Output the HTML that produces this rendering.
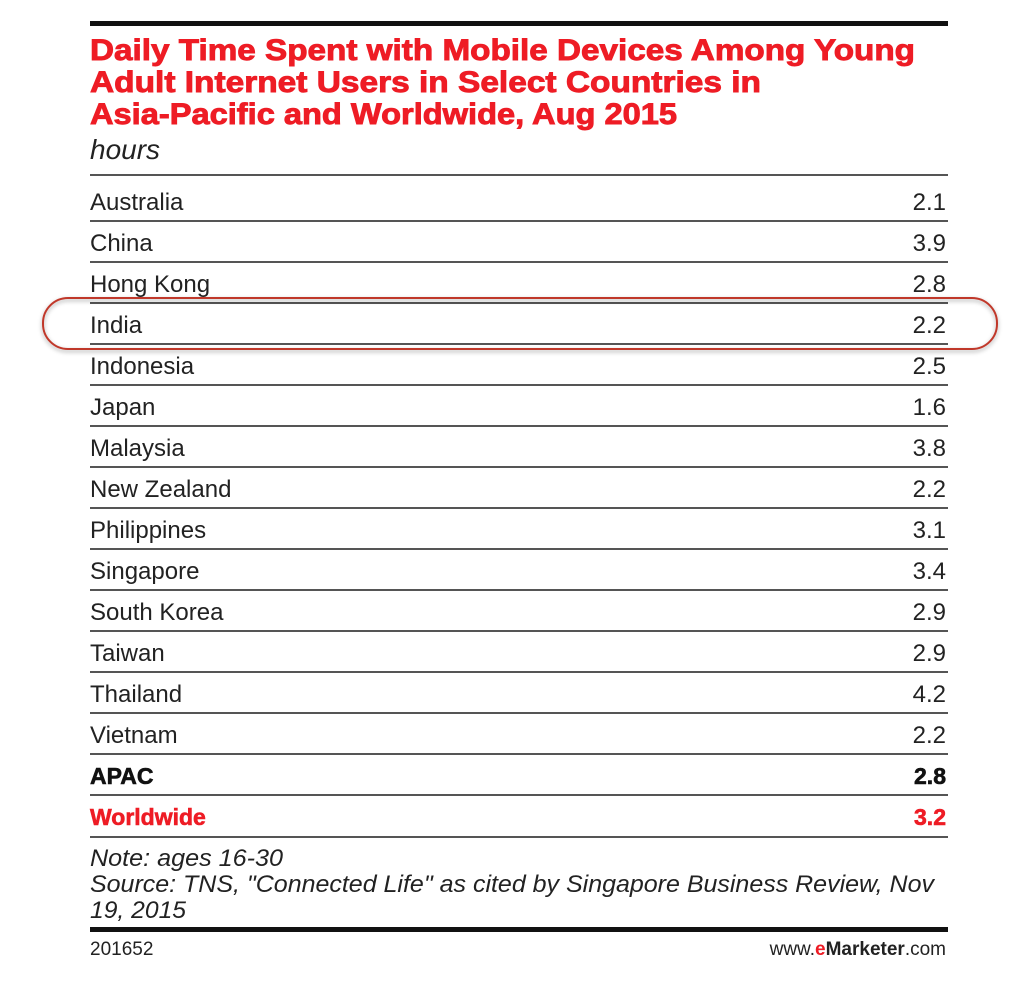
<!DOCTYPE html>
<html><head><meta charset="utf-8"><style>
html,body{margin:0;padding:0;background:#fff;}
svg{display:block;}
.t{font-family:"Liberation Sans",sans-serif;font-weight:bold;font-size:30px;fill:#ee1c25;stroke:#ee1c25;stroke-width:0.9px;}
.r{font-family:"Liberation Sans",sans-serif;font-size:24px;fill:#222;}
.n{font-family:"Liberation Sans",sans-serif;font-size:24px;font-style:italic;fill:#222;}
</style></head><body>
<svg width="1024" height="988" viewBox="0 0 1024 988" xmlns="http://www.w3.org/2000/svg">
<defs><filter id="sh" x="-5%" y="-30%" width="110%" height="160%"><feDropShadow dx="0" dy="2" stdDeviation="2" flood-color="#000" flood-opacity="0.35"/></filter></defs>
<rect x="90" y="21" width="858" height="5" fill="#111"/>
<text class="t" x="90" y="60" textLength="825" lengthAdjust="spacingAndGlyphs">Daily Time Spent with Mobile Devices Among Young</text>
<text class="t" x="90" y="92" textLength="671" lengthAdjust="spacingAndGlyphs">Adult Internet Users in Select Countries in</text>
<text class="t" x="90" y="124" textLength="587" lengthAdjust="spacingAndGlyphs">Asia-Pacific and Worldwide, Aug 2015</text>
<text x="90" y="159" font-family="Liberation Sans,sans-serif" font-size="28" font-style="italic" fill="#222">hours</text>
<g fill="#555">
<rect x="90" y="174" width="858" height="2"/>
<rect x="90" y="220" width="858" height="2"/><rect x="90" y="261" width="858" height="2"/><rect x="90" y="302" width="858" height="2"/><rect x="90" y="343" width="858" height="2"/><rect x="90" y="384" width="858" height="2"/><rect x="90" y="425" width="858" height="2"/><rect x="90" y="466" width="858" height="2"/><rect x="90" y="507" width="858" height="2"/><rect x="90" y="548" width="858" height="2"/><rect x="90" y="589" width="858" height="2"/><rect x="90" y="630" width="858" height="2"/><rect x="90" y="671" width="858" height="2"/><rect x="90" y="712" width="858" height="2"/><rect x="90" y="753" width="858" height="2"/><rect x="90" y="794" width="858" height="2"/><rect x="90" y="836" width="858" height="2"/>
</g>
<g>
<text class="r" x="90" y="210">Australia</text><text class="r" x="946" y="210" text-anchor="end">2.1</text>
<text class="r" x="90" y="251">China</text><text class="r" x="946" y="251" text-anchor="end">3.9</text>
<text class="r" x="90" y="292">Hong Kong</text><text class="r" x="946" y="292" text-anchor="end">2.8</text>
<text class="r" x="90" y="333">India</text><text class="r" x="946" y="333" text-anchor="end">2.2</text>
<text class="r" x="90" y="374">Indonesia</text><text class="r" x="946" y="374" text-anchor="end">2.5</text>
<text class="r" x="90" y="415">Japan</text><text class="r" x="946" y="415" text-anchor="end">1.6</text>
<text class="r" x="90" y="456">Malaysia</text><text class="r" x="946" y="456" text-anchor="end">3.8</text>
<text class="r" x="90" y="497">New Zealand</text><text class="r" x="946" y="497" text-anchor="end">2.2</text>
<text class="r" x="90" y="538">Philippines</text><text class="r" x="946" y="538" text-anchor="end">3.1</text>
<text class="r" x="90" y="579">Singapore</text><text class="r" x="946" y="579" text-anchor="end">3.4</text>
<text class="r" x="90" y="620">South Korea</text><text class="r" x="946" y="620" text-anchor="end">2.9</text>
<text class="r" x="90" y="661">Taiwan</text><text class="r" x="946" y="661" text-anchor="end">2.9</text>
<text class="r" x="90" y="702">Thailand</text><text class="r" x="946" y="702" text-anchor="end">4.2</text>
<text class="r" x="90" y="743">Vietnam</text><text class="r" x="946" y="743" text-anchor="end">2.2</text>
</g>
<text x="90" y="784" font-family="Liberation Sans,sans-serif" font-size="23" font-weight="bold" fill="#111" stroke="#111" stroke-width="0.6">APAC</text>
<text x="946" y="784" text-anchor="end" font-family="Liberation Sans,sans-serif" font-size="23" font-weight="bold" fill="#111" stroke="#111" stroke-width="0.6">2.8</text>
<text x="90" y="825" font-family="Liberation Sans,sans-serif" font-size="23" font-weight="bold" fill="#ee1c25" stroke="#ee1c25" stroke-width="0.6">Worldwide</text>
<text x="946" y="825" text-anchor="end" font-family="Liberation Sans,sans-serif" font-size="23" font-weight="bold" fill="#ee1c25" stroke="#ee1c25" stroke-width="0.6">3.2</text>
<rect x="43" y="298" width="954" height="51" rx="25" ry="25" fill="none" stroke="#c0392b" stroke-width="2" filter="url(#sh)"/>
<text class="n" x="90" y="866" textLength="193" lengthAdjust="spacingAndGlyphs">Note: ages 16-30</text>
<text class="n" x="90" y="892" textLength="844" lengthAdjust="spacingAndGlyphs">Source: TNS, "Connected Life" as cited by Singapore Business Review, Nov</text>
<text class="n" x="90" y="918" textLength="96" lengthAdjust="spacingAndGlyphs">19, 2015</text>
<rect x="90" y="927" width="858" height="5" fill="#111"/>
<text x="90" y="955" font-family="Liberation Sans,sans-serif" font-size="19" fill="#222">201652</text>
<text x="946" y="955" text-anchor="end" font-family="Liberation Sans,sans-serif" font-size="19" fill="#222">www.<tspan fill="#ee1c25" font-weight="bold">e</tspan><tspan font-weight="bold">Marketer</tspan>.com</text>
</svg>
</body></html>
